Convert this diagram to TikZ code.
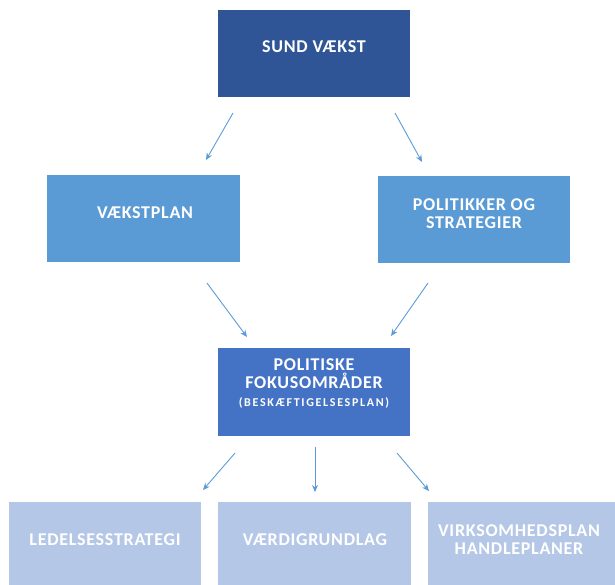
\documentclass[tikz,border=0pt]{standalone}
\usepackage{fontspec}
\setmainfont{Carlito}
\newfontfamily\spacedfont[LetterSpace=4]{Carlito}
\newfontfamily\widefont[LetterSpace=14]{Carlito}
\usetikzlibrary{arrows.meta}
\definecolor{cdark}{HTML}{2F5597}
\definecolor{cmid}{HTML}{5B9BD5}
\definecolor{cfocus}{HTML}{4472C4}
\definecolor{clight}{HTML}{B4C7E7}
\definecolor{carrow}{HTML}{5B9BD5}
\tikzset{
  box/.style={inner sep=0pt, outer sep=0pt},
  lbl/.style={text=white, font=\spacedfont\fontsize{18}{18}\selectfont\bfseries, align=center, inner sep=0pt},
  sublbl/.style={text=white, font=\widefont\fontsize{12}{13}\selectfont\bfseries, align=center, inner sep=0pt},
  arr/.style={draw=carrow, line width=0.9pt, -{Stealth[length=7pt,width=6pt]}}
}
\begin{document}
\begin{tikzpicture}[x=1pt,y=-1pt]
\useasboundingbox (0,0) rectangle (615,584);
\clip (0,0) rectangle (615,584);
% boxes
\fill[cdark] (218,10) rectangle (410,97);
\node[box] (top) at (314,53.5) {};
\fill[cmid] (47,175) rectangle (240,262);
\node[box] (vp) at (143.5,218.5) {};
\fill[cmid] (378,176) rectangle (570,263);
\node[box] (ps) at (474,219.5) {};
\fill[cfocus] (218,348) rectangle (410,436);
\node[box] (pf) at (314,392) {};
\fill[clight] (9,502) rectangle (201,600);
\node[box] (ls) at (105,551) {};
\fill[clight] (218,502) rectangle (411,600);
\node[box] (vg) at (314.5,551) {};
\fill[clight] (428,502) rectangle (640,600);
\node[box] (vh) at (534,551) {};
% texts
\node[lbl] (ttop) at (314,47) {SUND VÆKST};
\node[lbl] (tvp) at (145,213) {VÆKSTPLAN};
\node[lbl] (tps) at (474,214) {POLITIKKER OG\\STRATEGIER};
\node[lbl] (tpf) at (314,374) {POLITISKE\\FOKUSOMRÅDER};
\node[sublbl] (tpf2) at (314,403) {(BESKÆFTIGELSESPLAN)};
\node[lbl] (tls) at (105,540) {LEDELSESSTRATEGI};
\node[lbl] (tvg) at (315,540) {VÆRDIGRUNDLAG};
\node[lbl] (tvh) at (519,540) {VIRKSOMHEDSPLAN\\HANDLEPLANER};
% arrow ends
\coordinate (a1s) at (233,113); \coordinate (a1e) at (206,160);
\coordinate (a2s) at (395,113); \coordinate (a2e) at (422,162);
\coordinate (a3s) at (207,283); \coordinate (a3e) at (247,337);
\coordinate (a4s) at (428,283); \coordinate (a4e) at (391,336);
\coordinate (a5s) at (235,453); \coordinate (a5e) at (203,490);
\coordinate (a6s) at (315,447); \coordinate (a6e) at (315,492);
\coordinate (a7s) at (397,453); \coordinate (a7e) at (429,491);
\draw[arr] (a1s) -- (a1e);
\draw[arr] (a2s) -- (a2e);
\draw[arr] (a3s) -- (a3e);
\draw[arr] (a4s) -- (a4e);
\draw[arr] (a5s) -- (a5e);
\draw[arr] (a6s) -- (a6e);
\draw[arr] (a7s) -- (a7e);
\end{tikzpicture}
\end{document}
